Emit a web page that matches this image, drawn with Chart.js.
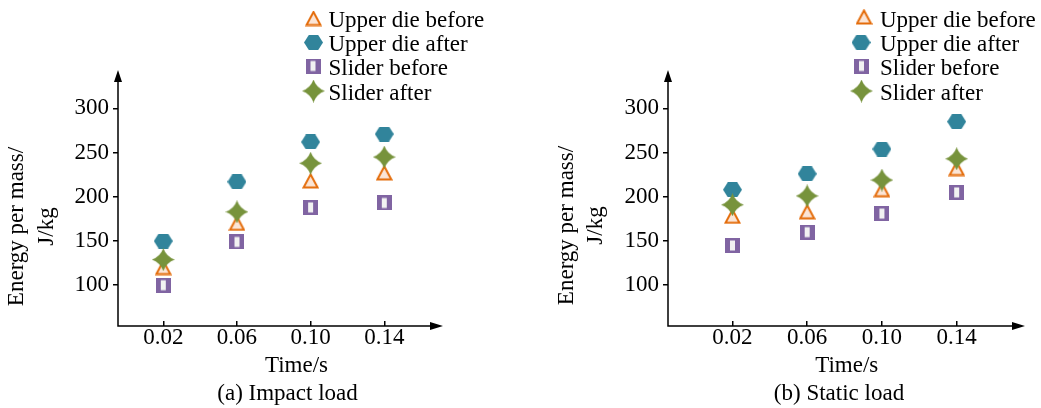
<!DOCTYPE html>
<html><head><meta charset="utf-8">
<script src="https://cdn.jsdelivr.net/npm/chart.js@4.4.1/dist/chart.umd.min.js"></script>
<style>
html,body{margin:0;padding:0;background:#fff;width:1041px;height:408px;overflow:hidden}
#a{position:absolute;left:0;top:0}
#b{position:absolute;left:520px;top:0}
</style></head><body>
<canvas id="a" width="520" height="408"></canvas>
<canvas id="b" width="521" height="408"></canvas>
<script>
// ---- data ----
const times = [0.02, 0.06, 0.10, 0.14];
const xTickValues = [0.02, 0.06, 0.10, 0.14];
const yTickValues = [100, 150, 200, 250, 300];
const seriesNames = ['Upper die before', 'Upper die after', 'Slider before', 'Slider after'];
const impactUpperBefore = [120, 170, 218, 227];
const impactUpperAfter = [150, 217, 262, 271];
const impactSliderBefore = [100, 149, 188, 193];
const impactSliderAfter = [129, 183, 238, 245];
const staticUpperBefore = [178, 183, 208, 232];
const staticUpperAfter = [208, 226, 254, 285];
const staticSliderBefore = [145, 160, 181, 205];
const staticSliderAfter = [191, 201, 219, 243];
const xTitle = 'Time/s';
const yTitle = ['Energy per mass/', 'J/kg'];
const captions = ['(a) Impact load', '(b) Static load'];

// ---- marker images ----
function mk(w, h, draw) { const c = document.createElement('canvas'); c.width = w; c.height = h; draw(c.getContext('2d')); return c; }
const triMarker = mk(17, 16, c => {
  c.beginPath(); c.moveTo(8.5, 1.5); c.lineTo(15.5, 14.5); c.lineTo(1.5, 14.5); c.closePath();
  c.fillStyle = '#FBE5D6'; c.fill(); c.lineWidth = 2; c.strokeStyle = '#E46C0A'; c.stroke();
});
const hexMarker = mk(19, 15, c => {
  c.beginPath(); c.moveTo(0, 7.5); c.lineTo(4.8, 0); c.lineTo(14.2, 0); c.lineTo(19, 7.5); c.lineTo(14.2, 15); c.lineTo(4.8, 15); c.closePath();
  c.fillStyle = '#31849B'; c.fill();
});
const sqMarker = mk(15, 15, c => {
  c.fillStyle = '#8064A2'; c.fillRect(0, 0, 15, 15);
  c.fillStyle = '#F2F2F2'; c.fillRect(5, 2.5, 5, 10);
});
const starMarker = mk(23, 23, c => {
  c.beginPath(); c.moveTo(11.5, 0);
  c.quadraticCurveTo(14.5, 8.5, 23, 11.5); c.quadraticCurveTo(14.5, 14.5, 11.5, 23);
  c.quadraticCurveTo(8.5, 14.5, 0, 11.5); c.quadraticCurveTo(8.5, 8.5, 11.5, 0); c.closePath();
  c.fillStyle = '#77933C'; c.fill();
});
const markers = [triMarker, hexMarker, sqMarker, starMarker];
const drawOrder = [2, 1, 2, 0];

const FONT = 23;
Chart.defaults.font.family = '"Liberation Serif", "Times New Roman", serif';
Chart.defaults.font.size = FONT;
Chart.defaults.color = '#000';

const decor = {
  id: 'decor',
  afterDraw(chart, args, o) {
    const ctx = chart.ctx, ca = chart.chartArea;
    ctx.save();
    ctx.strokeStyle = '#000'; ctx.fillStyle = '#000'; ctx.lineWidth = 1.5;
    ctx.beginPath(); ctx.moveTo(ca.left, ca.top + 8); ctx.lineTo(ca.left, ca.bottom); ctx.lineTo(ca.right - 8, ca.bottom); ctx.stroke();
    ctx.beginPath(); ctx.moveTo(ca.left, ca.top); ctx.lineTo(ca.left - 4, ca.top + 12); ctx.lineTo(ca.left + 4, ca.top + 12); ctx.closePath(); ctx.fill();
    ctx.beginPath(); ctx.moveTo(ca.right, ca.bottom); ctx.lineTo(ca.right - 13, ca.bottom - 4); ctx.lineTo(ca.right - 13, ca.bottom + 4); ctx.closePath(); ctx.fill();
    ctx.font = FONT + 'px "Liberation Serif"';
    ctx.textAlign = 'center'; ctx.textBaseline = 'alphabetic';
    ctx.fillText(xTitle, o.xTitleX, o.xTitleY);
    ctx.fillText(o.caption, o.captionX, o.captionY);
    yTitle.forEach((t, i) => {
      ctx.save(); ctx.translate(o.yTitleX[i], o.yTitleY); ctx.rotate(-Math.PI / 2); ctx.fillText(t, 0, 0); ctx.restore();
    });
    ctx.textAlign = 'left';
    chart.data.datasets.forEach((ds, i) => {
      const img = ds.pointStyle, y = o.legendY[i], mx = o.legendMarkerX[i];
      ctx.drawImage(img, mx - img.width / 2, y - img.height / 2);
      ctx.fillText(ds.label, o.legendTextX, o.legendTextY[i]);
    });
    ctx.restore();
  }
};

function build(id, values, xMin, xMax, yAxisW, padRight, deco) {
  const datasets = values.map((vals, i) => ({
    label: seriesNames[i],
    data: times.map((t, j) => ({ x: t, y: vals[j] })),
    pointStyle: markers[i],
    pointRadius: 8,
    order: drawOrder[i],
    clip: false
  }));
  return new Chart(document.getElementById(id), {
    type: 'scatter',
    data: { datasets },
    plugins: [decor],
    options: {
      responsive: false, animation: false, events: [], devicePixelRatio: 1,
      layout: { padding: { top: 70, left: 0, right: padRight, bottom: 0 } },
      plugins: { legend: { display: false }, tooltip: { enabled: false }, decor: deco },
      scales: {
        x: {
          type: 'linear', min: xMin, max: xMax,
          afterBuildTicks: s => { s.ticks = xTickValues.map(v => ({ value: v })); },
          afterFit: s => { s.height = 82; },
          ticks: { autoSkip: false, maxRotation: 0, padding: 3, callback: v => v.toFixed(2) },
          grid: { drawOnChartArea: false, drawTicks: true, tickLength: -5, color: '#000', lineWidth: 1.5 },
          border: { display: false }
        },
        y: {
          type: 'linear', min: 53.9, max: 343.4,
          afterBuildTicks: s => { s.ticks = yTickValues.map(v => ({ value: v })); },
          afterFit: s => { s.width = yAxisW; },
          ticks: { padding: 4 },
          grid: { drawOnChartArea: false, drawTicks: true, tickLength: 5, color: '#000', lineWidth: 1.5 },
          border: { display: false }
        }
      }
    }
  });
}

build('a', [impactUpperBefore, impactUpperAfter, impactSliderBefore, impactSliderAfter], -0.0046, 0.1719, 118, 77, {
  caption: captions[0], xTitleX: 296.5, xTitleY: 372, captionX: 287.5, captionY: 400,
  yTitleX: [23, 53], yTitleY: 226.5,
  legendMarkerX: [313.5, 313.5, 313, 313.5], legendY: [18.5, 42.5, 66, 91], legendTextX: 328.5, legendTextY: [27, 51, 75, 100]
});
build('b', [staticUpperBefore, staticUpperAfter, staticSliderBefore, staticSliderAfter], -0.0145, 0.1766, 148, 16, {
  caption: captions[1], xTitleX: 326.7, xTitleY: 372, captionX: 319, captionY: 400,
  yTitleX: [52.5, 82], yTitleY: 225.5,
  legendMarkerX: [344, 341, 341.5, 341.5], legendY: [17, 42.5, 66, 91], legendTextX: 360, legendTextY: [27, 51, 75, 100]
});
</script>
</body></html>
